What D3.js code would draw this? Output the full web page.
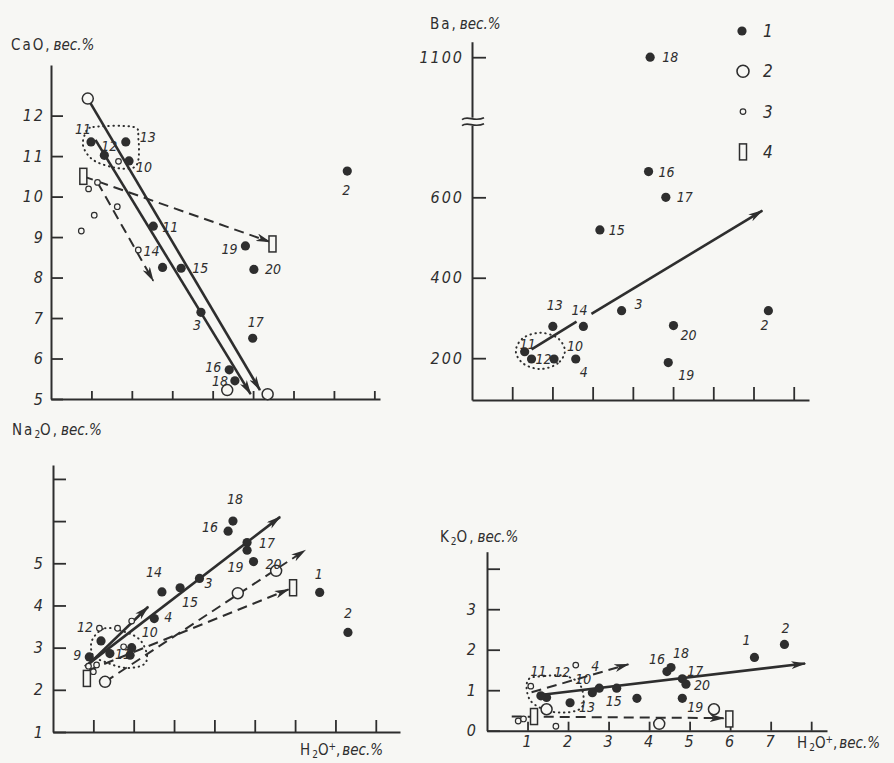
<!DOCTYPE html>
<html>
<head>
<meta charset="utf-8">
<script src="https://cdn.jsdelivr.net/npm/d3@7"></script>
<style>
body { margin: 0; background: #f7f7f4; }
svg { display: block; }
</style>
</head>
<body>
<svg id="chart" width="894" height="763"></svg>
<script>
// x axis of every panel: H2O+, wt.%
const xTicks = [1, 2, 3, 4, 5, 6, 7, 8];
const kXTickLabels = [1, 2, 3, 4, 5, 6, 7];

// CaO panel
const caTicks = [5, 6, 7, 8, 9, 10, 11, 12];
const caFilled = [[0.99, 11.35], [1.32, 11.02], [1.85, 11.35], [1.93, 10.88], [2.53, 9.27], [2.76, 8.25],
  [3.22, 8.23], [3.71, 7.14], [4.81, 8.78], [5.02, 8.2], [4.99, 6.5], [4.41, 5.72], [4.55, 5.45], [7.33, 10.63]];
const caLabels = ["11", "12", "13", "10", "11", "14", "15", "3", "19", "20", "17", "16", "18", "2"];
const caOpen = [[0.91, 12.42], [4.36, 5.22], [5.36, 5.12]];
const caSmall = [[0.75, 9.15], [0.93, 10.19], [1.07, 9.54], [1.15, 10.35], [1.64, 9.75], [1.67, 10.87], [2.16, 8.68]];
const caRect = [[0.8, 10.5], [5.48, 8.83]];
const caSolid = [[[0.91, 12.42], [5.17, 5.22]], [[1.1, 11.4], [4.94, 5.12]]];
const caDashed = [[[0.8, 10.5], [5.42, 8.88]], [[1.15, 10.35], [2.53, 7.92]]];
const caOutline = [[0.85, 11.56], [1.05, 11.72], [2.04, 11.72], [2.16, 11.44], [2.16, 10.9], [2.0, 10.7],
  [1.55, 10.72], [1.05, 10.9], [0.8, 11.23]];

// Ba panel
const baTicks = [200, 400, 600, 1100];
const baFilled = [[4.43, 1100], [4.39, 664], [4.82, 600], [3.18, 519], [3.72, 318], [2.01, 279], [2.77, 279],
  [5.01, 281], [7.37, 318], [1.31, 216], [1.48, 198], [2.04, 198], [2.58, 198], [4.88, 189]];
const baLabels = ["18", "16", "17", "15", "3", "13", "14", "20", "2", "11", "12", "10", "4", "19"];
const baSolid = [[[1.48, 222], [2.6, 291]], [[2.97, 310], [7.22, 567]]];
const baOutline = [[2.31, 218], [2.13, 187], [1.7, 173], [1.27, 187], [1.09, 218], [1.27, 250], [1.7, 263], [2.13, 250]];

// Na2O panel
const naTicks = [1, 2, 3, 4, 5, 6, 7];
const naTickLabels = [1, 2, 3, 4, 5];
const naFilled = [[4.46, 6.0], [4.34, 5.76], [4.81, 5.49], [4.81, 5.31], [4.97, 5.04], [3.63, 4.64], [3.15, 4.42],
  [2.7, 4.32], [2.51, 3.69], [6.61, 4.31], [7.31, 3.36], [1.19, 3.16], [0.9, 2.78], [1.41, 2.86], [1.95, 3.0], [1.91, 2.82]];
const naLabels = ["18", "16", "17", "", "19|20", "3", "15", "14", "4", "1", "2", "12", "9", "11", "10", ""];
const naOpen = [[1.29, 2.19], [4.58, 4.29], [5.53, 4.82]];
const naSmall = [[0.88, 2.56], [1.15, 3.46], [1.6, 3.46], [1.95, 3.63], [1.75, 3.02], [1.0, 2.43], [1.08, 2.59]];
const naRect = [[0.84, 2.27], [5.95, 4.42]];
const naSolid = [[[0.79, 2.55], [5.63, 6.1]], [[0.92, 2.64], [2.36, 3.97]]];
const naDashed = [[[1.29, 2.19], [6.25, 5.31]], [[0.9, 2.47], [5.84, 4.38]]];
const naOutline = [[0.97, 3.18], [1.29, 3.46], [1.79, 3.37], [2.16, 3.18], [2.33, 2.82], [2.23, 2.59], [1.79, 2.52],
  [1.29, 2.66], [0.99, 2.82]];

// K2O panel
const kTicks = [0, 1, 2, 3, 4];
const kTickLabels = [0, 1, 2, 3];
const kFilled = [[7.34, 2.13], [6.6, 1.81], [4.44, 1.46], [4.54, 1.56], [4.82, 1.28], [4.91, 1.15], [4.82, 0.8],
  [3.2, 1.05], [3.7, 0.8], [2.6, 0.94], [2.77, 1.05], [2.05, 0.69], [1.47, 0.82], [1.33, 0.86]];
const kLabels = ["2", "1", "16", "18", "17", "20", "19", "15", "", "10", "4", "12|13", "11", ""];
const kOpen = [[4.25, 0.17], [5.6, 0.53], [1.47, 0.53]];
const kSmall = [[2.19, 1.62], [0.77, 0.24], [0.9, 0.29], [1.7, 0.11], [1.08, 1.1]];
const kRect = [[1.16, 0.35], [5.98, 0.29]];
const kSolid = [[[1.31, 0.88], [7.85, 1.66]]];
const kDashed = [[[1.1, 0.95], [3.49, 1.64]], [[0.61, 0.35], [5.84, 0.31]]];
const kOutline = [[1.01, 1.25], [1.43, 1.35], [1.93, 1.35], [2.3, 1.13], [2.37, 0.63], [2.05, 0.46], [1.51, 0.49], [1.06, 0.76]];

const ink = "#2e2e2e";
const paper = "#f7f7f4";
const font = "'Liberation Sans Narrow','DejaVu Sans Condensed','Liberation Sans',sans-serif";

const svg = d3.select("#chart").style("font-family", font);
svg.append("rect").attr("width", 894).attr("height", 763).attr("fill", paper);

svg.append("defs").append("marker")
    .attr("id", "head")
    .attr("viewBox", "0 0 15 8")
    .attr("refX", 14)
    .attr("refY", 4)
    .attr("markerWidth", 15)
    .attr("markerHeight", 8)
    .attr("markerUnits", "userSpaceOnUse")
    .attr("orient", "auto")
    .append("path")
    .attr("d", "M0,0 L15,4 L0,8 L4,4 Z")
    .attr("fill", ink);

const drawSymbols = (g, x, y, filled, open, small, rects) => {
    g.selectAll("rect.r4").data(rects || []).join("rect")
        .attr("class", "r4")
        .attr("x", d => x(d[0]) - 3.5).attr("y", d => y(d[1]) - 8)
        .attr("width", 7).attr("height", 16)
        .attr("fill", paper).attr("stroke", ink).attr("stroke-width", 1.5);
    g.selectAll("circle.o2").data(open || []).join("circle")
        .attr("class", "o2")
        .attr("cx", d => x(d[0])).attr("cy", d => y(d[1])).attr("r", 5.5)
        .attr("fill", paper).attr("stroke", ink).attr("stroke-width", 1.5);
    g.selectAll("circle.o3").data(small || []).join("circle")
        .attr("class", "o3")
        .attr("cx", d => x(d[0])).attr("cy", d => y(d[1])).attr("r", 2.8)
        .attr("fill", paper).attr("stroke", ink).attr("stroke-width", 1.2);
    g.selectAll("circle.f1").data(filled || []).join("circle")
        .attr("class", "f1")
        .attr("cx", d => x(d[0])).attr("cy", d => y(d[1])).attr("r", 4.6)
        .attr("fill", ink);
};

const drawPanel = (p) => {
    const g = svg.append("g");
    const x = d3.scaleLinear().domain(p.xDomain).range(p.xRange);
    const y = p.y;
    const yBottom = y.range()[0];

    const xAxis = g.append("g")
        .attr("transform", `translate(0,${yBottom})`)
        .call(d3.axisBottom(x).tickValues(xTicks).tickSize(-p.xTick).tickSizeOuter(0).tickPadding(5)
            .tickFormat(d => p.xLabels && p.xLabels.includes(d) ? d : ""));
    const yAxis = g.append("g")
        .attr("transform", `translate(${p.xRange[0]},0)`)
        .call(d3.axisLeft(y).tickValues(p.yTicks).tickSize(-p.yTick).tickSizeOuter(0).tickPadding(p.yPad)
            .tickFormat(d => p.yLabels.includes(d) ? d : ""));

    [xAxis, yAxis].forEach(a => {
        a.select(".domain").attr("stroke", ink).attr("stroke-width", 2);
        a.selectAll(".tick line").attr("stroke", ink).attr("stroke-width", 1.8);
        a.selectAll(".tick text")
            .attr("fill", ink)
            .style("font-family", font)
            .style("font-style", "italic")
            .style("font-size", "16px")
            .style("letter-spacing", "2px");
    });

    const line = d3.line().x(d => x(d[0])).y(d => y(d[1]));

    if (p.outline) {
        g.append("path")
            .attr("d", d3.line().x(d => x(d[0])).y(d => y(d[1])).curve(d3.curveCardinalClosed)(p.outline))
            .attr("fill", "none").attr("stroke", ink).attr("stroke-width", 2)
            .attr("stroke-linecap", "round").attr("stroke-dasharray", "0.5,4.5");
    }

    g.selectAll("path.solid").data(p.solid || []).join("path")
        .attr("class", "solid")
        .attr("d", line)
        .attr("fill", "none").attr("stroke", ink).attr("stroke-width", 2.6)
        .attr("marker-end", (d, i) => p.noHead && p.noHead.includes(i) ? null : "url(#head)");

    g.selectAll("path.dashed").data(p.dashed || []).join("path")
        .attr("class", "dashed")
        .attr("d", line)
        .attr("fill", "none").attr("stroke", ink).attr("stroke-width", 2)
        .attr("stroke-dasharray", "10,6")
        .attr("marker-end", "url(#head)");

    drawSymbols(g, x, y, p.filled, p.open, p.small, p.rects);

    p.filled.forEach((d, i) => {
        const lab = p.labels[i];
        if (!lab) return;
        const n = p.nudge[i];
        lab.split("|").forEach((t, j) => {
            const o = Array.isArray(n[0]) ? n[j] : n;
            g.append("text")
                .attr("x", x(d[0]) + o[0])
                .attr("y", y(d[1]) + o[1])
                .attr("text-anchor", "middle")
                .attr("dominant-baseline", "central")
                .attr("fill", ink)
                .style("font-style", "italic")
                .style("font-size", "14px")
                .text(t);
        });
    });

    return { g, x, y };
};

// CaO
drawPanel({
    xDomain: [0, 8.14], xRange: [51, 380],
    y: d3.scaleLinear().domain([5, 13.25]).range([399, 65]),
    yTicks: caTicks, yLabels: caTicks, xTick: 8, yTick: 12, yPad: 6,
    filled: caFilled, labels: caLabels, open: caOpen, small: caSmall, rects: caRect,
    solid: caSolid, dashed: caDashed, outline: caOutline,
    nudge: [[-8, -13], [5, -9], [22, -5], [15, 6], [17, 1], [-11, -16], [19, 0], [-4, 13], [-16, 3], [19, 0],
        [3, -16], [-16, -3], [-15, 0], [-1, 19]]
});

// Ba (broken axis)
const ba = drawPanel({
    xDomain: [0, 8.38], xRange: [472, 809],
    y: d3.scaleLinear().domain([96, 788, 1175]).range([400, 121.7, 41.7]),
    yTicks: baTicks, yLabels: baTicks, xTick: 13, yTick: 14, yPad: 8,
    filled: baFilled, labels: baLabels, solid: baSolid, noHead: [0], outline: baOutline,
    nudge: [[20, 0], [18, 0], [19, 0], [17, 0], [17, -7], [2, -21], [-4, -16], [15, 9], [-4, 14], [3, -8],
        [12, 0], [21, -13], [8, 13], [18, 12]]
});
const yb = ba.y(788);
ba.g.append("rect").attr("x", 466).attr("y", yb - 4).attr("width", 12).attr("height", 8).attr("fill", paper);
[-3, 3].forEach(off => {
    ba.g.append("path")
        .attr("d", `M462,${yb + off + 1} C468,${yb + off - 4} 474,${yb + off + 4} 484,${yb + off - 1}`)
        .attr("fill", "none").attr("stroke", ink).attr("stroke-width", 1.6);
});

// legend
const legendItems = ["1", "2", "3", "4"];
legendItems.forEach((t, i) => {
    const cy = 31 + i * 40.3;
    const lg = svg.append("g");
    if (i === 0) lg.append("circle").attr("cx", 742).attr("cy", cy).attr("r", 4.6).attr("fill", ink);
    if (i === 1) lg.append("circle").attr("cx", 743).attr("cy", cy).attr("r", 6).attr("fill", paper).attr("stroke", ink).attr("stroke-width", 1.6);
    if (i === 2) lg.append("circle").attr("cx", 743).attr("cy", cy).attr("r", 2.8).attr("fill", paper).attr("stroke", ink).attr("stroke-width", 1.2);
    if (i === 3) lg.append("rect").attr("x", 739.5).attr("y", cy - 8).attr("width", 7).attr("height", 16).attr("fill", paper).attr("stroke", ink).attr("stroke-width", 1.5);
    lg.append("text").attr("x", 763).attr("y", cy).attr("dominant-baseline", "central")
        .attr("fill", ink).style("font-style", "italic").style("font-size", "17px").text(t);
});

// Na2O
drawPanel({
    xDomain: [0, 8.6], xRange: [53, 400],
    y: d3.scaleLinear().domain([1, 7.33]).range([732, 465]),
    yTicks: naTicks, yLabels: naTickLabels, xTick: 12, yTick: 13, yPad: 8,
    filled: naFilled, labels: naLabels, open: naOpen, small: naSmall, rects: naRect,
    solid: naSolid, dashed: naDashed, outline: naOutline,
    nudge: [[2, -22], [-18, -4], [20, 0], null, [[-18, 5], [20, 2]], [9, 5], [10, 14], [-8, -20], [14, -2],
        [-1, -18], [0, -19], [-16, -14], [-12, -2], [13, 0], [18, -16], null]
});

// K2O
drawPanel({
    xDomain: [0, 8.39], xRange: [487, 827],
    y: d3.scaleLinear().domain([0, 4.42]).range([730.7, 551.7]),
    yTicks: kTicks, yLabels: kTickLabels, xTick: 9, yTick: 13, yPad: 9, xLabels: kXTickLabels,
    filled: kFilled, labels: kLabels, open: kOpen, small: kSmall, rects: kRect,
    solid: kSolid, dashed: kDashed, outline: kOutline,
    nudge: [[1, -16], [-8, -17], [-10, -13], [10, -15], [13, -8], [16, 1], [13, 9], [-3, 13], null, [-9, -14],
        [-4, -22], [[-8, -31], [17, 4]], [-8, -26], null]
});

// axis titles
const title = (x, y, parts) => {
    const t = svg.append("text").attr("x", x).attr("y", y).attr("fill", ink).style("font-size", "15px");
    parts.forEach(([s, kind]) => {
        const ts = t.append("tspan").text(s);
        if (kind === "i") ts.style("font-style", "italic").attr("dx", 2);
        if (kind === "sub") ts.attr("baseline-shift", "-30%").style("font-size", "10px");
        if (kind === "sup") ts.attr("baseline-shift", "50%").style("font-size", "10px");
        if (kind === "sp") ts.style("letter-spacing", "2px");
    });
};
title(11, 50, [["CaO,", "sp"], ["вес.%", "i"]]);
title(430, 29, [["Ba,", "sp"], ["вес.%", "i"]]);
title(12, 435, [["Na", "sp"], ["2", "sub"], ["O,", "sp"], ["вес.%", "i"]]);
title(440, 542, [["K", "sp"], ["2", "sub"], ["O,", "sp"], ["вес.%", "i"]]);
title(300, 755, [["H", "sp"], ["2", "sub"], ["O", ""], ["+", "sup"], [",", ""], ["вес.%", "i"]]);
title(797, 748, [["H", "sp"], ["2", "sub"], ["O", ""], ["+", "sup"], [",", ""], ["вес.%", "i"]]);
</script>
</body>
</html>
